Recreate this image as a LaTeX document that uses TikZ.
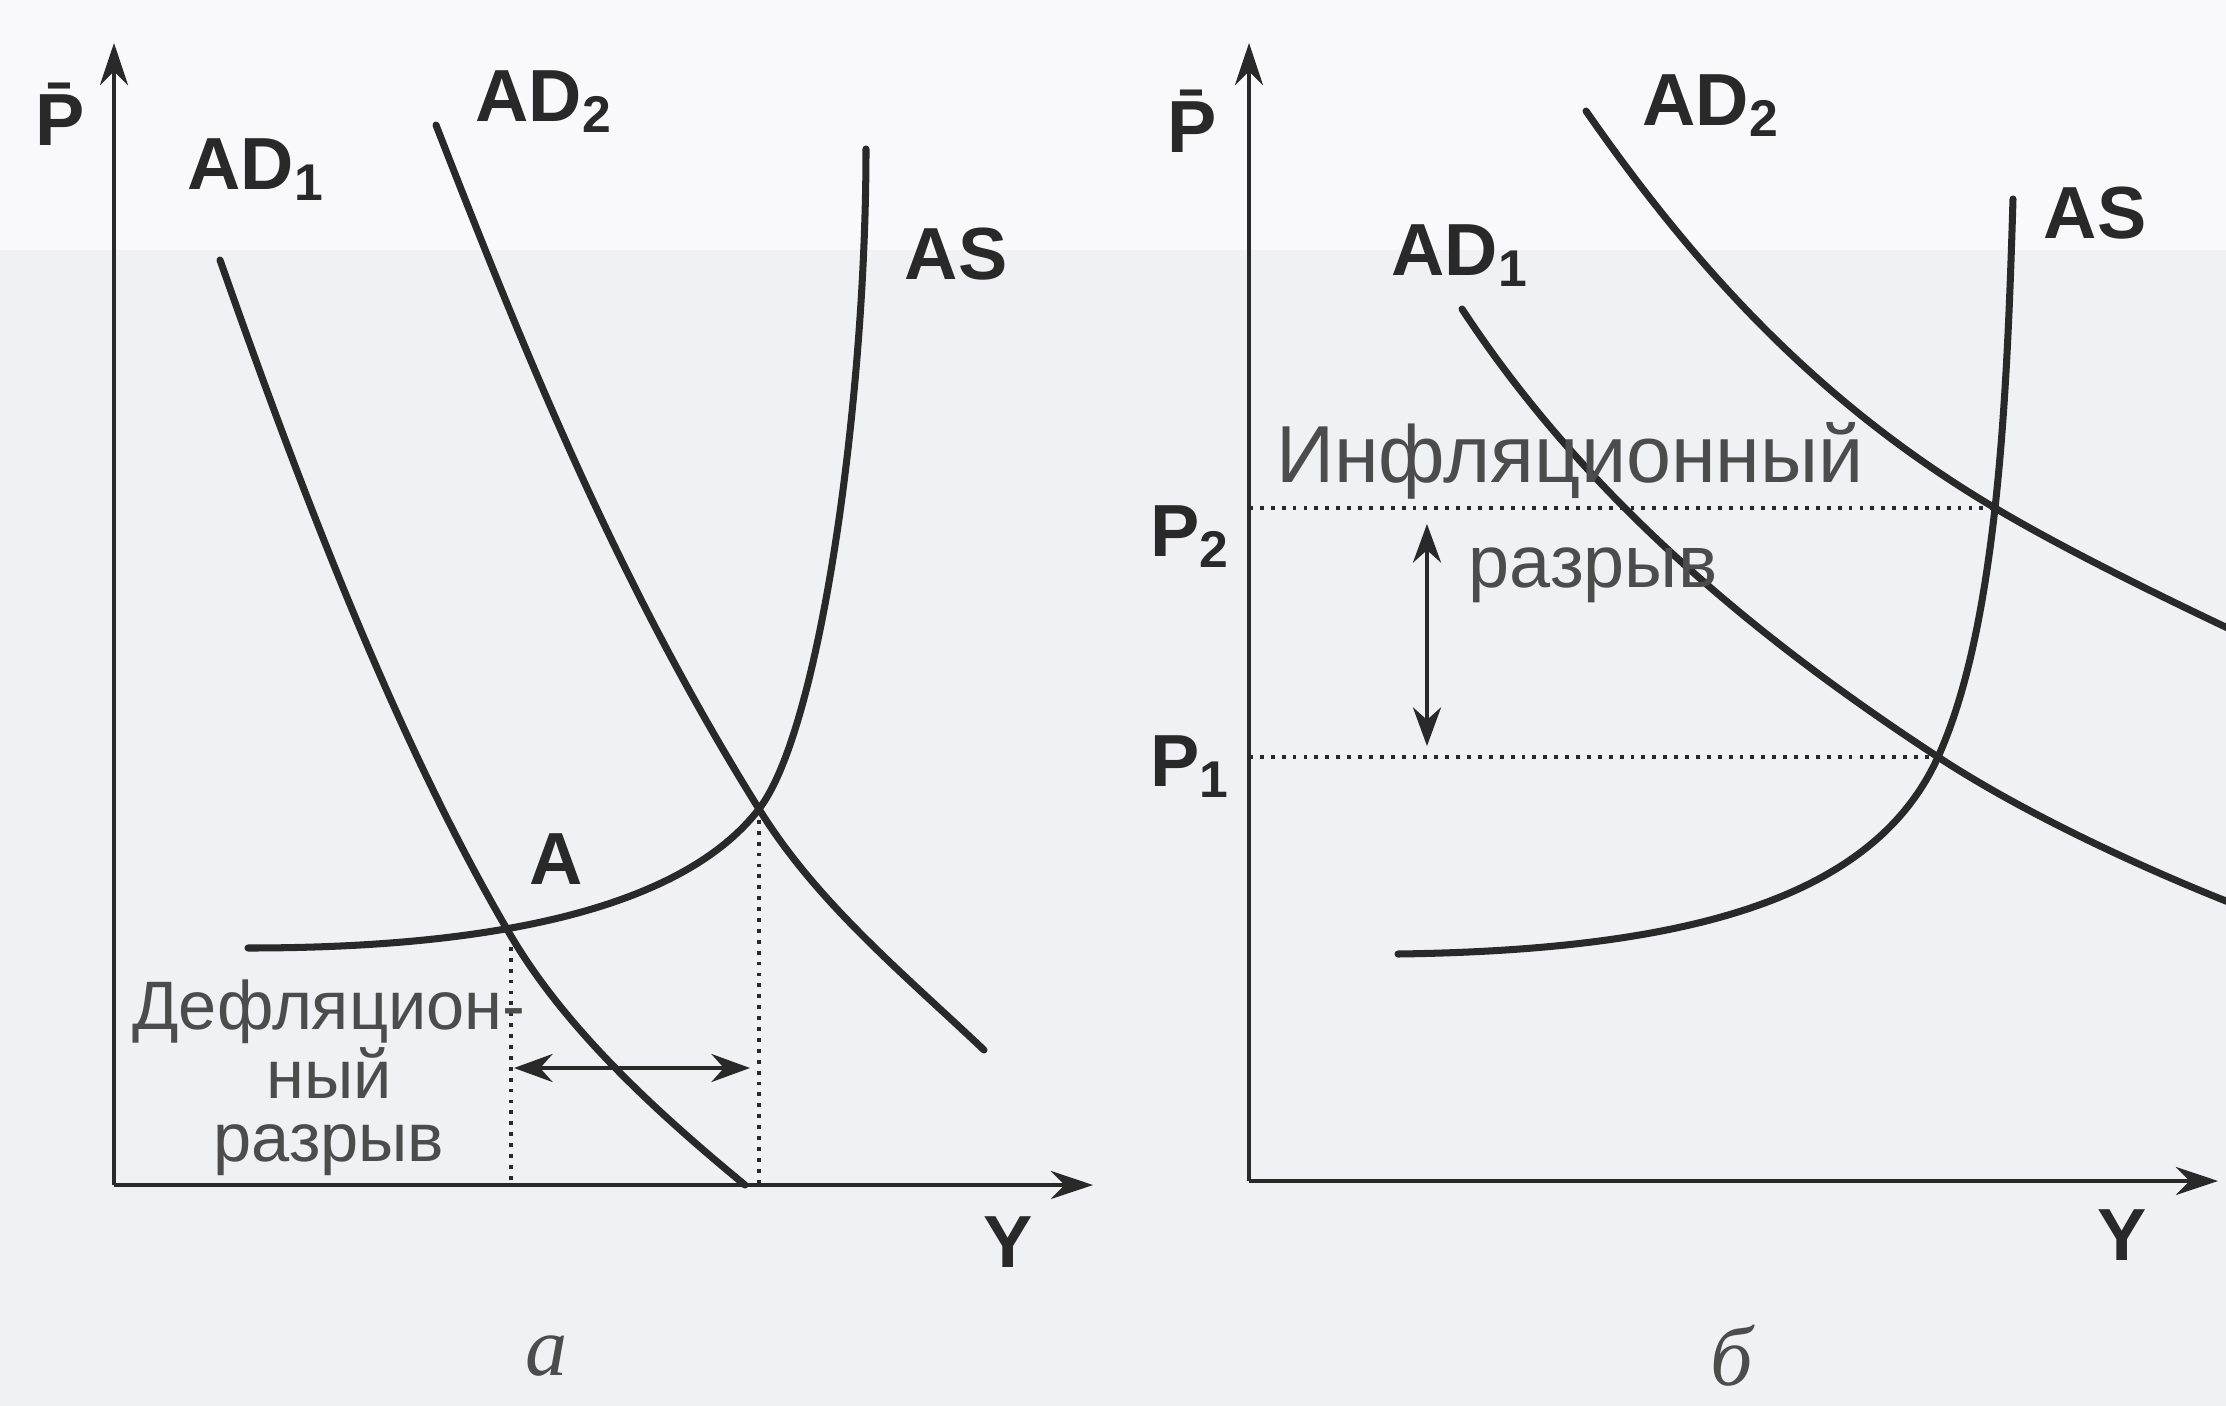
\documentclass[tikz,border=0pt]{standalone}
\usepackage{fontspec}
\setmainfont{Liberation Sans}
\newfontfamily\serifcyr{Liberation Serif}
\usetikzlibrary{arrows.meta}
\definecolor{bgc}{rgb}{0.94,0.945,0.96}
\definecolor{bgtop}{rgb}{0.975,0.975,0.985}
\definecolor{ink}{gray}{0.16}
\definecolor{txt}{gray}{0.3}
\tikzset{
  axis/.style={draw=ink, line width=1.1pt, -{Stealth[length=12pt,width=8pt]}},
  curve/.style={draw=ink, line width=2pt, line cap=round},
  guide/.style={draw=ink, line width=1.1pt, dotted},
  gaparrow/.style={draw=ink, line width=1pt, {Stealth[length=11pt,width=8pt]}-{Stealth[length=11pt,width=8pt]}},
  lbl/.style={text=ink, font=\fontsize{21}{24}\selectfont\bfseries, inner sep=0pt},
  ru/.style={text=txt, font=\fontsize{19.5}{18}\selectfont, inner sep=0pt, align=center},
  figcap/.style={text=txt, font=\fontsize{24}{26}\selectfont\serifcyr\itshape, inner sep=0pt}
}
\begin{document}
\begin{tikzpicture}[x=0.01cm,y=-0.01cm]
\useasboundingbox (0,0) rectangle (2226,1406);
\fill[bgc] (0,0) rectangle (2226,1406);
\fill[bgtop] (0,0) rectangle (2226,250);

% ---------- left panel (a) ----------
\coordinate (Lo) at (114,1185);
\coordinate (Lyt) at (114,43);
\coordinate (Lxt) at (1093,1185);
\coordinate (LA) at (511,936);
\coordinate (LE) at (759,809);
\draw[axis] (Lo) -- (Lyt);
\draw[axis] (Lo) -- (Lxt);

% AD1
\draw[curve] (220,260) .. controls (296,476) and (394,738) .. (LA)
             .. controls (567,1031) and (660,1115) .. (745,1185);
% AD2
\draw[curve] (436,125) .. controls (530,367) and (621,588) .. (LE)
             .. controls (817,903) and (904,974) .. (984,1050);
% AS
\draw[curve] (248,948) .. controls (430,948) and (668,927) .. (LE)
             .. controls (820,730) and (866,400) .. (866,149);

\coordinate (LAb) at (LA |- Lo);
\coordinate (LEb) at (LE |- Lo);
\draw[guide] (LA) -- (LAb);
\draw[guide] (LE) -- (LEb);
\coordinate (Lg1) at (514,1068);
\coordinate (Lg2) at (750,1068);
\draw[gaparrow] (Lg1) -- (Lg2);

\node[lbl] (LP) at (60,114) {\=P};
\node[lbl] (LAD1) at (256,170) {AD\textsubscript{1}};
\node[lbl] (LAD2) at (544,102) {AD\textsubscript{2}};
\node[lbl] (LAS) at (956,254) {AS};
\node[lbl] (LAl) at (556,859) {A};
\node[lbl] (LY) at (1008,1242) {Y};
\node[ru] (Lgap) at (329,1078) {Дефляцион-\\ный\\разрыв};
\node[figcap] (La) at (547,1356) {а};

% ---------- right panel (b) ----------
\coordinate (Ro) at (1249,1181);
\coordinate (Ryt) at (1249,43);
\coordinate (Rxt) at (2218,1181);
\coordinate (RE1) at (1938,757);
\coordinate (RE2) at (1995,508);
\draw[axis] (Ro) -- (Ryt);
\draw[axis] (Ro) -- (Rxt);

% AD2
\draw[curve] (1586,111) .. controls (1700,275) and (1823,406) .. (RE2)
             .. controls (2064,549) and (2158,595) .. (2236,632);
% AD1
\draw[curve] (1462,309) .. controls (1584,495) and (1753,636) .. (RE1)
             .. controls (2022,812) and (2137,866) .. (2236,905);
% AS
\draw[curve] (1398,954) .. controls (1700,950) and (1876,894) .. (RE1)
             .. controls (1971,684) and (1986,587) .. (RE2)
             .. controls (2006,409) and (2010,299) .. (2013,199);

\coordinate (RP1) at (Ro |- RE1);
\coordinate (RP2) at (Ro |- RE2);
\draw[guide] (RP2) -- (RE2);
\draw[guide] (RP1) -- (RE1);
\coordinate (Rg1) at (1427,524);
\coordinate (Rg2) at (1427,746);
\draw[gaparrow] (Rg1) -- (Rg2);

\node[lbl] (RP) at (1192,121) {\=P};
\node[lbl] (RAD2) at (1711,106) {AD\textsubscript{2}};
\node[lbl] (RAS) at (2095,213) {AS};
\node[lbl] (RAD1) at (1460,256) {AD\textsubscript{1}};
\node[lbl] (RP2l) at (1190,537) {P\textsubscript{2}};
\node[lbl] (RP1l) at (1190,767) {P\textsubscript{1}};
\node[lbl] (RY) at (2122,1235) {Y};
\node[ru, font=\fontsize{23}{26}\selectfont] (Rinf) at (1570,461) {Инфляционный};
\node[ru, font=\fontsize{21}{24}\selectfont] (Rgap) at (1593,575) {разрыв};
\node[figcap] (Rb) at (1732,1356) {б};
\end{tikzpicture}
\end{document}
